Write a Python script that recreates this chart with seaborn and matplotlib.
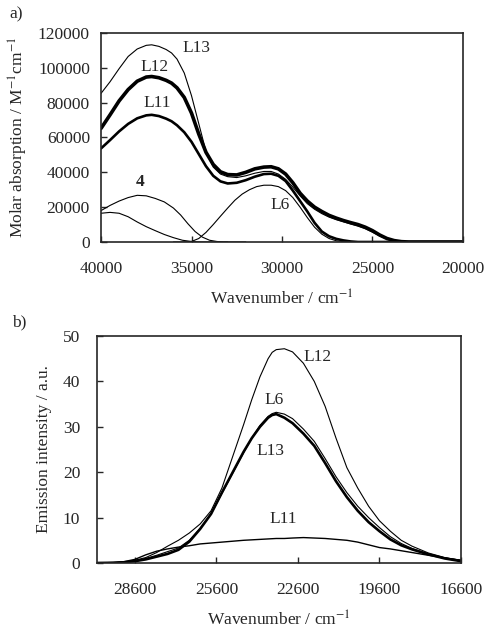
import numpy as np
import pandas as pd
import matplotlib
matplotlib.use('Agg')
import matplotlib.pyplot as plt
import seaborn as sns

# ---- panel a: absorption spectra ----
wn_a = [40000, 39500, 39000, 38500, 38000, 37500, 37200, 36800, 36400, 36100, 35800,
        35400, 35000, 34600, 34200, 33800, 33400, 33000, 32500, 32000, 31500,
        31000, 30600, 30200, 29800, 29400, 29000, 28600, 28200, 27800, 27400,
        27000, 26600, 26200, 25800, 25400, 25000, 24600, 24200, 23800, 23400,
        23000, 22000, 21000, 20000]
abs_L13 = [85300, 92000, 99500, 106500, 110800, 112900, 113200, 112300, 110500, 108500, 105000,
           97000, 84000, 68000, 52000, 43000, 39000, 37500, 37000, 38000, 39500,
           40500, 40500, 39000, 36000, 31500, 26500, 22000, 18800, 16300, 14300,
           12800, 11600, 10300, 9100, 7600, 5600, 3400, 1700, 600, 150,
           0, 0, 0, 0]
abs_L12 = [65200, 73000, 81000, 87500, 92300, 94700, 95000, 94300, 92800, 91200, 88500,
           83000, 74000, 62000, 51500, 44500, 40300, 38700, 38500, 40000, 42000,
           43000, 43200, 42000, 39000, 34000, 28000, 23500, 20000, 17500, 15300,
           13700, 12300, 11100, 10000, 8500, 6500, 4000, 2000, 800, 200,
           0, 0, 0, 0]
abs_L11 = [53700, 58500, 63500, 67800, 71000, 72700, 73000, 72300, 70800, 69300, 67000,
           63000, 57500, 50500, 43500, 38000, 34800, 33600, 34000, 35500, 37500,
           39000, 39200, 38000, 35000, 29500, 23500, 17500, 11000, 6000, 3300,
           1800, 900, 300, 0, 0, 0, 0, 0, 0, 0,
           0, 0, 0, 0]

wn_L6a = [36000, 35500, 35000, 34600, 34200, 33800, 33400, 33000, 32600, 32200,
          31800, 31400, 31000, 30600, 30200, 29800, 29400, 29000, 28600, 28200,
          27800, 27400, 27000, 26600, 26200, 25000, 23000]
abs_L6 = [0, 0, 300, 2000, 5500, 10000, 14800, 19500, 24000, 27500,
          30000, 31800, 32600, 32600, 31800, 29500, 25500, 20000, 14000, 8500,
          4500, 2000, 700, 200, 0, 0, 0]

wn_4 = [40000, 39500, 39000, 38500, 38000, 37500, 37000, 36500, 36000, 35600,
        35200, 34800, 34400, 34000, 33600, 33200, 32000]
abs_4 = [18000, 21000, 23500, 25500, 26800, 26500, 25000, 23000, 19500, 15500,
         10500, 6000, 2800, 1000, 300, 0, 0]

wn_lig = [40000, 39500, 39000, 38500, 38000, 37500, 37000, 36500, 36000, 35500,
          35000, 34500, 33000]
abs_lig = [16500, 17000, 16500, 14500, 11500, 8800, 6500, 4300, 2500, 1000,
           300, 0, 0]

# ---- panel b: emission spectra ----
wn_b = [30000, 29400, 29000, 28600, 28200, 27800, 27400, 27000, 26600, 26200,
        25800, 25400, 25000, 24600, 24300, 24000, 23700, 23550, 23400, 23100, 22800,
        22400, 22000, 21600, 21200, 20800, 20400, 20000, 19600, 19200, 18800,
        18400, 17800, 17200, 16600]
em_L12 = [0, 0.05, 0.2, 0.6, 1.2, 2.3, 3.7, 5.0, 6.6, 8.6,
          11.5, 16.5, 23.5, 30.5, 36, 41, 45, 46.4, 47, 47.2, 46.5,
          44, 40, 34.5, 27.5, 21, 16.5, 12.5, 9.3, 7.0, 5.0,
          3.7, 2.2, 1.2, 0.6]
em_L13 = [0, 0.05, 0.15, 0.4, 0.8, 1.4, 2.0, 2.9, 4.7, 7.5,
          10.8, 15.5, 20, 24.5, 27.5, 30, 32, 32.6, 32.8, 32, 30.8,
          28.5, 25.8, 22, 18, 14.5, 11.5, 9, 7, 5.2, 3.9,
          3.0, 1.9, 1.0, 0.4]
em_L6 = [0, 0.05, 0.2, 0.5, 1.0, 1.7, 2.5, 3.3, 5.0, 7.6,
         10.8, 15.3, 19.8, 24.3, 27.5, 30.3, 32.3, 32.9, 33.2, 32.8, 31.8,
         29.5, 26.8, 23, 19, 15.5, 12.5, 10, 7.8, 5.8, 4.3,
         3.2, 2.0, 1.1, 0.5]
em_L11 = [0, 0.1, 0.3, 0.8, 1.8, 2.6, 3.1, 3.5, 3.8, 4.2,
          4.4, 4.6, 4.8, 5.0, 5.1, 5.2, 5.3, 5.35, 5.4, 5.4, 5.5,
          5.6, 5.5, 5.4, 5.2, 5.0, 4.6, 4.0, 3.4, 3.1, 2.7,
          2.3, 1.7, 1.1, 0.6]

sns.set_style('ticks')
plt.rcParams['font.family'] = ['Liberation Serif', 'DejaVu Serif']
plt.rcParams['mathtext.fontset'] = 'stix'
plt.rcParams['font.size'] = 12.5

fig = plt.figure(figsize=(4.87, 6.34), dpi=100)
ax1 = fig.add_axes([0.2074, 0.6183, 0.7433, 0.3297])
ax2 = fig.add_axes([0.199, 0.112, 0.7476, 0.358])

def draw(ax, x, y, lw):
    sns.lineplot(x=x, y=y, ax=ax, color='black', linewidth=lw, estimator=None,
                 solid_joinstyle='round')

draw(ax1, wn_a, abs_L13, 0.8)
draw(ax1, wn_a, abs_L12, 2.6)
draw(ax1, wn_a, abs_L11, 1.9)
draw(ax1, wn_L6a, abs_L6, 0.8)
draw(ax1, wn_4, abs_4, 0.8)
draw(ax1, wn_lig, abs_lig, 0.8)

ax1.set_xlim(40000, 20000)
ax1.set_ylim(0, 120000)
ax1.set_xticks([40000, 35000, 30000, 25000, 20000])
ax1.set_yticks(range(0, 120001, 20000))
ax1.set_xlabel('Wavenumber / cm$^{-1}$', labelpad=9)
ax1.set_ylabel('Molar absorption / M$^{-1}$cm$^{-1}$', labelpad=6)
ax1.text(34700, 111400, 'L13', ha='center', va='center')
ax1.text(37020, 100500, 'L12', ha='center', va='center')
ax1.text(36900, 79700, 'L11', ha='center', va='center')
ax1.text(37850, 34300, '4', ha='center', va='center', fontweight='bold')
ax1.text(30110, 21100, 'L6', ha='center', va='center')

draw(ax2, wn_b, em_L12, 0.8)
draw(ax2, wn_b, em_L13, 1.9)
draw(ax2, wn_b, em_L6, 0.8)
draw(ax2, wn_b, em_L11, 1.0)

ax2.set_xlim(30000, 16600)
ax2.set_ylim(0, 50)
ax2.set_xticks([28600, 25600, 22600, 19600, 16600])
ax2.set_yticks(range(0, 51, 10))
ax2.set_xlabel('Wavenumber / cm$^{-1}$', labelpad=9)
ax2.set_ylabel('Emission intensity / a.u.', labelpad=8)
ax2.text(21870, 45.3, 'L12', ha='center', va='center')
ax2.text(23490, 35.9, 'L6', ha='center', va='center')
ax2.text(23610, 24.7, 'L13', ha='center', va='center')
ax2.text(23140, 9.7, 'L11', ha='center', va='center')

for ax in (ax1, ax2):
    ax.tick_params(direction='in', length=4, width=1)
    ax.tick_params(axis='x', pad=14)
    ax.tick_params(axis='y', pad=8)
    for s in ax.spines.values():
        s.set_linewidth(1.2)
        s.set_visible(True)
ax2.tick_params(axis='y', pad=12)

fig.text(0.02, 0.978, 'a)', ha='left', va='center')
fig.text(0.025, 0.492, 'b)', ha='left', va='center')

fig.savefig('out.png', dpi=100)
